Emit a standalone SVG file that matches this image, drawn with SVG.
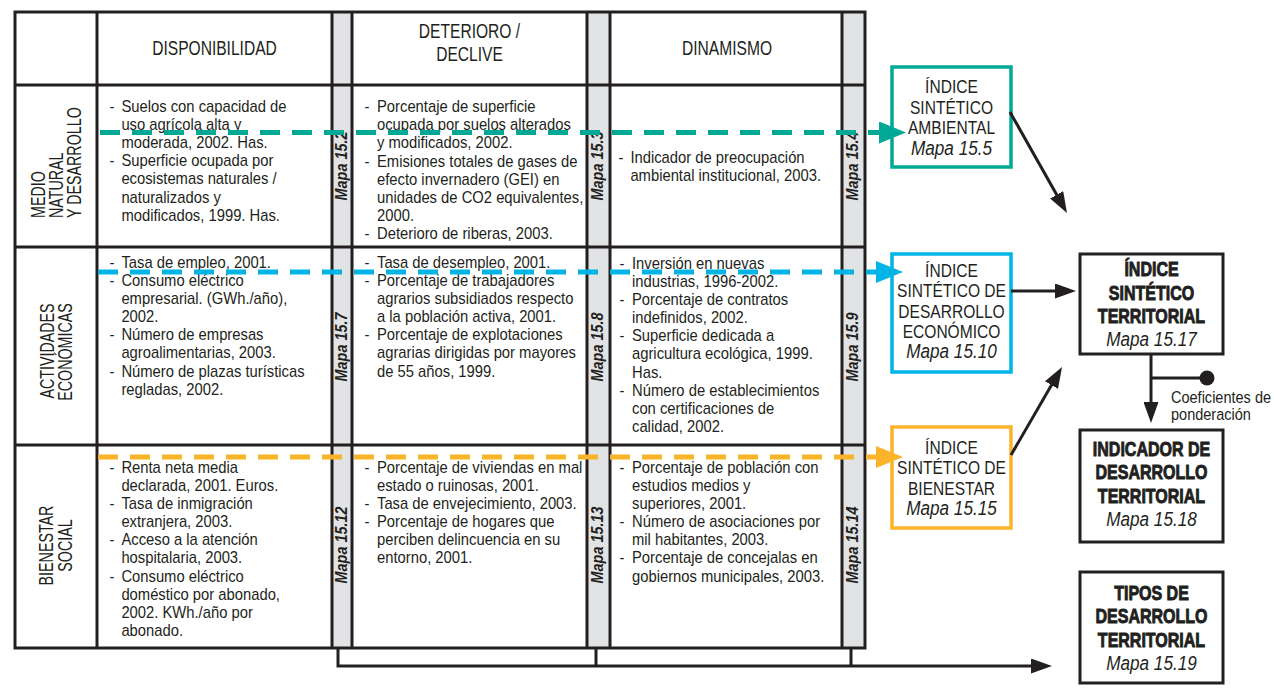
<svg xmlns="http://www.w3.org/2000/svg" width="1274" height="700" viewBox="0 0 1274 700">
<style>
text{font-family:"Liberation Sans",Arial,sans-serif;fill:#231f20}
.b{font-size:17px}
.h{font-size:19.5px;text-anchor:middle}
.r{font-size:21px}
.m{font-size:16px;font-weight:bold;font-style:italic;text-anchor:middle}
.bx{font-size:19px;text-anchor:middle}
.bxi{font-size:19.5px;font-style:italic;text-anchor:middle}
.bb{font-size:20px;font-weight:bold;text-anchor:middle;stroke:#231f20;stroke-width:0.9}
.c{font-size:16.5px}
.grid{fill:none;stroke:#231f20;stroke-width:3}
.strip{fill:#e2e3e4}
.k{fill:none;stroke:#231f20;stroke-width:3}
.dash{fill:none;stroke-width:5;stroke-dasharray:20 12}
</style>
<defs>
<marker id="ah" markerUnits="userSpaceOnUse" markerWidth="21" markerHeight="15" refX="5" refY="7.5" orient="auto"><path d="M0,0 L21,7.5 L0,15 Z" fill="#231f20"/></marker>
<marker id="at" markerUnits="userSpaceOnUse" markerWidth="27" markerHeight="22" refX="0" refY="11" orient="auto"><path d="M0,0 L27,11 L0,22 Z" fill="#00a896"/></marker>
<marker id="ab" markerUnits="userSpaceOnUse" markerWidth="27" markerHeight="22" refX="0" refY="11" orient="auto"><path d="M0,0 L27,11 L0,22 Z" fill="#00b5e6"/></marker>
<marker id="ao" markerUnits="userSpaceOnUse" markerWidth="27" markerHeight="22" refX="0" refY="11" orient="auto"><path d="M0,0 L27,11 L0,22 Z" fill="#fbb32a"/></marker>
</defs>
<rect width="1274" height="700" fill="#ffffff"/>

<g id="table-grid">
<rect class="strip" x="332" y="12" width="20" height="636"/>
<rect class="strip" x="587" y="12" width="23" height="636"/>
<rect class="strip" x="842" y="12" width="23" height="636"/>
<rect class="grid" x="15" y="12" width="850" height="636"/>
<path class="grid" d="M97,12 V648 M332,12 V648 M352,12 V648 M587,12 V648 M610,12 V648 M842,12 V648 M15,85 H865 M15,247 H865 M15,445 H865"/>
</g>

<g id="headers">
<text class="h" transform="translate(214.5,0) scale(0.8,1)"><tspan x="0" y="55">DISPONIBILIDAD</tspan></text>
<text class="h" transform="translate(469.5,0) scale(0.8,1)"><tspan x="0" y="38">DETERIORO /</tspan><tspan x="0" y="61">DECLIVE</tspan></text>
<text class="h" transform="translate(727,0) scale(0.8,1)"><tspan x="0" y="55">DINAMISMO</tspan></text>
</g>

<g id="row-labels">
<text class="r" transform="translate(45,218) rotate(-90) scale(0.68,1)">MEDIO</text>
<text class="r" transform="translate(63,218) rotate(-90) scale(0.68,1)">NATURAL</text>
<text class="r" transform="translate(81,218) rotate(-90) scale(0.68,1)">Y DESARROLLO</text>
<text class="r" text-anchor="middle" transform="translate(54,351) rotate(-90) scale(0.68,1)">ACTIVIDADES</text>
<text class="r" text-anchor="middle" transform="translate(72,352) rotate(-90) scale(0.68,1)">ECONÓMICAS</text>
<text class="r" text-anchor="middle" transform="translate(53,545.5) rotate(-90) scale(0.68,1)">BIENESTAR</text>
<text class="r" text-anchor="middle" transform="translate(72,545.5) rotate(-90) scale(0.68,1)">SOCIAL</text>
</g>

<g id="mapa-labels">
<text class="m" transform="translate(346.5,166) rotate(-90) scale(0.9,1)">Mapa 15.2</text>
<text class="m" transform="translate(603,166) rotate(-90) scale(0.9,1)">Mapa 15.3</text>
<text class="m" transform="translate(858,166) rotate(-90) scale(0.9,1)">Mapa 15.4</text>
<text class="m" transform="translate(346.5,347) rotate(-90) scale(0.9,1)">Mapa 15.7</text>
<text class="m" transform="translate(603,347) rotate(-90) scale(0.9,1)">Mapa 15.8</text>
<text class="m" transform="translate(858,347) rotate(-90) scale(0.9,1)">Mapa 15.9</text>
<text class="m" transform="translate(346.5,545) rotate(-90) scale(0.9,1)">Mapa 15.12</text>
<text class="m" transform="translate(603,545) rotate(-90) scale(0.9,1)">Mapa 15.13</text>
<text class="m" transform="translate(858,545) rotate(-90) scale(0.9,1)">Mapa 15.14</text>
</g>

<g id="cell-medio-disponibilidad">
<text class="b" transform="translate(109.4,0) scale(0.87,1)">
<tspan x="0" y="111.7">-</tspan><tspan x="13.8">Suelos con capacidad de</tspan>
<tspan x="13.8" y="129.9">uso agrícola alta y</tspan>
<tspan x="13.8" y="148.1">moderada, 2002. Has.</tspan>
<tspan x="0" y="166.3">-</tspan><tspan x="13.8">Superficie ocupada por</tspan>
<tspan x="13.8" y="184.5">ecosistemas naturales /</tspan>
<tspan x="13.8" y="202.7">naturalizados y</tspan>
<tspan x="13.8" y="220.9">modificados, 1999. Has.</tspan>
</text>
</g>
<g id="cell-medio-deterioro">
<text class="b" transform="translate(364.4,0) scale(0.87,1)">
<tspan x="0" y="112.3">-</tspan><tspan x="14.5">Porcentaje de superficie</tspan>
<tspan x="14.5" y="130.4">ocupada por suelos alterados</tspan>
<tspan x="14.5" y="148.5">y modificados, 2002.</tspan>
<tspan x="0" y="166.6">-</tspan><tspan x="14.5">Emisiones totales de gases de</tspan>
<tspan x="14.5" y="184.7">efecto invernadero (GEI) en</tspan>
<tspan x="14.5" y="202.8">unidades de CO2 equivalentes,</tspan>
<tspan x="14.5" y="220.9">2000.</tspan>
<tspan x="0" y="239">-</tspan><tspan x="14.5">Deterioro de riberas, 2003.</tspan>
</text>
</g>
<g id="cell-medio-dinamismo">
<text class="b" transform="translate(618.4,0) scale(0.87,1)">
<tspan x="0" y="163">-</tspan><tspan x="13.8">Indicador de preocupación</tspan>
<tspan x="13.8" y="181.1">ambiental institucional, 2003.</tspan>
</text>
</g>

<g id="cell-actividades-disponibilidad">
<text class="b" transform="translate(109.4,0) scale(0.87,1)">
<tspan x="0" y="268">-</tspan><tspan x="13.8">Tasa de empleo, 2001.</tspan>
<tspan x="0" y="286.1">-</tspan><tspan x="13.8">Consumo eléctrico</tspan>
<tspan x="13.8" y="304.2">empresarial. (GWh./año),</tspan>
<tspan x="13.8" y="322.3">2002.</tspan>
<tspan x="0" y="340.4">-</tspan><tspan x="13.8">Número de empresas</tspan>
<tspan x="13.8" y="358.5">agroalimentarias, 2003.</tspan>
<tspan x="0" y="376.6">-</tspan><tspan x="13.8">Número de plazas turísticas</tspan>
<tspan x="13.8" y="394.7">regladas, 2002.</tspan>
</text>
</g>
<g id="cell-actividades-deterioro">
<text class="b" transform="translate(364.4,0) scale(0.87,1)">
<tspan x="0" y="268">-</tspan><tspan x="14.5">Tasa de desempleo, 2001.</tspan>
<tspan x="0" y="286.1">-</tspan><tspan x="14.5">Porcentaje de trabajadores</tspan>
<tspan x="14.5" y="304.2">agrarios subsidiados respecto</tspan>
<tspan x="14.5" y="322.3">a la población activa, 2001.</tspan>
<tspan x="0" y="340.4">-</tspan><tspan x="14.5">Porcentaje de explotaciones</tspan>
<tspan x="14.5" y="358.5">agrarias dirigidas por mayores</tspan>
<tspan x="14.5" y="376.6">de 55 años, 1999.</tspan>
</text>
</g>
<g id="cell-actividades-dinamismo">
<text class="b" transform="translate(619.4,0) scale(0.87,1)">
<tspan x="0" y="269">-</tspan><tspan x="14.5">Inversión en nuevas</tspan>
<tspan x="14.5" y="287.1">industrias, 1996-2002.</tspan>
<tspan x="0" y="305.2">-</tspan><tspan x="14.5">Porcentaje de contratos</tspan>
<tspan x="14.5" y="323.3">indefinidos, 2002.</tspan>
<tspan x="0" y="341.4">-</tspan><tspan x="14.5">Superficie dedicada a</tspan>
<tspan x="14.5" y="359.5">agricultura ecológica, 1999.</tspan>
<tspan x="14.5" y="377.6">Has.</tspan>
<tspan x="0" y="395.7">-</tspan><tspan x="14.5">Número de establecimientos</tspan>
<tspan x="14.5" y="413.8">con certificaciones de</tspan>
<tspan x="14.5" y="431.9">calidad, 2002.</tspan>
</text>
</g>

<g id="cell-bienestar-disponibilidad">
<text class="b" transform="translate(109.4,0) scale(0.87,1)">
<tspan x="0" y="473">-</tspan><tspan x="13.8">Renta neta media</tspan>
<tspan x="13.8" y="491.1">declarada, 2001. Euros.</tspan>
<tspan x="0" y="509.2">-</tspan><tspan x="13.8">Tasa de inmigración</tspan>
<tspan x="13.8" y="527.3">extranjera, 2003.</tspan>
<tspan x="0" y="545.4">-</tspan><tspan x="13.8">Acceso a la atención</tspan>
<tspan x="13.8" y="563.5">hospitalaria, 2003.</tspan>
<tspan x="0" y="581.6">-</tspan><tspan x="13.8">Consumo eléctrico</tspan>
<tspan x="13.8" y="599.7">doméstico por abonado,</tspan>
<tspan x="13.8" y="617.8">2002. KWh./año por</tspan>
<tspan x="13.8" y="635.9">abonado.</tspan>
</text>
</g>
<g id="cell-bienestar-deterioro">
<text class="b" transform="translate(364.4,0) scale(0.87,1)">
<tspan x="0" y="473">-</tspan><tspan x="14.5">Porcentaje de viviendas en mal</tspan>
<tspan x="14.5" y="491.1">estado o ruinosas, 2001.</tspan>
<tspan x="0" y="509.2">-</tspan><tspan x="14.5">Tasa de envejecimiento, 2003.</tspan>
<tspan x="0" y="527.3">-</tspan><tspan x="14.5">Porcentaje de hogares que</tspan>
<tspan x="14.5" y="545.4">perciben delincuencia en su</tspan>
<tspan x="14.5" y="563.5">entorno, 2001.</tspan>
</text>
</g>
<g id="cell-bienestar-dinamismo">
<text class="b" transform="translate(619.4,0) scale(0.87,1)">
<tspan x="0" y="473">-</tspan><tspan x="14.5">Porcentaje de población con</tspan>
<tspan x="14.5" y="491.1">estudios medios y</tspan>
<tspan x="14.5" y="509.2">superiores, 2001.</tspan>
<tspan x="0" y="527.3">-</tspan><tspan x="14.5">Número de asociaciones por</tspan>
<tspan x="14.5" y="545.4">mil habitantes, 2003.</tspan>
<tspan x="0" y="563.5">-</tspan><tspan x="14.5">Porcentaje de concejalas en</tspan>
<tspan x="14.5" y="581.6">gobiernos municipales, 2003.</tspan>
</text>
</g>

<g id="node-ambiental">
<rect x="892" y="67" width="119" height="100" fill="#ffffff" stroke="#00a896" stroke-width="3.5"/>
<text class="bx" transform="translate(951.5,0) scale(0.82,1)"><tspan x="0" y="93.5">ÍNDICE</tspan><tspan x="0" y="113.9">SINTÉTICO</tspan><tspan x="0" y="134.3">AMBIENTAL</tspan></text>
<text class="bxi" transform="translate(951.5,0) scale(0.88,1)"><tspan x="0" y="154.7">Mapa 15.5</tspan></text>
</g>
<g id="node-economico">
<rect x="892" y="254" width="119" height="118" fill="#ffffff" stroke="#00b5e6" stroke-width="3.5"/>
<text class="bx" transform="translate(951.5,0) scale(0.82,1)"><tspan x="0" y="277">ÍNDICE</tspan><tspan x="0" y="297.3">SINTÉTICO DE</tspan><tspan x="0" y="317.6">DESARROLLO</tspan><tspan x="0" y="338">ECONÓMICO</tspan></text>
<text class="bxi" transform="translate(951.5,0) scale(0.88,1)"><tspan x="0" y="358.3">Mapa 15.10</tspan></text>
</g>
<g id="node-bienestar">
<rect x="892" y="427" width="119" height="101" fill="#ffffff" stroke="#fbb32a" stroke-width="3.5"/>
<text class="bx" transform="translate(951.5,0) scale(0.82,1)"><tspan x="0" y="454">ÍNDICE</tspan><tspan x="0" y="474.4">SINTÉTICO DE</tspan><tspan x="0" y="494.8">BIENESTAR</tspan></text>
<text class="bxi" transform="translate(951.5,0) scale(0.88,1)"><tspan x="0" y="515.2">Mapa 15.15</tspan></text>
</g>
<g id="node-territorial">
<rect x="1080" y="254" width="143" height="100" fill="#ffffff" stroke="#231f20" stroke-width="3"/>
<text class="bb" transform="translate(1151.5,0) scale(0.8,1)"><tspan x="0" y="276.5">ÍNDICE</tspan><tspan x="0" y="299.7">SINTÉTICO</tspan><tspan x="0" y="323">TERRITORIAL</tspan></text>
<text class="bxi" transform="translate(1151.5,0) scale(0.88,1)"><tspan x="0" y="346.3">Mapa 15.17</tspan></text>
</g>
<g id="node-indicador">
<rect x="1080" y="430" width="143" height="112" fill="#ffffff" stroke="#231f20" stroke-width="3"/>
<text class="bb" transform="translate(1151.5,0) scale(0.8,1)"><tspan x="0" y="456">INDICADOR DE</tspan><tspan x="0" y="479.3">DESARROLLO</tspan><tspan x="0" y="502.6">TERRITORIAL</tspan></text>
<text class="bxi" transform="translate(1151.5,0) scale(0.88,1)"><tspan x="0" y="525.9">Mapa 15.18</tspan></text>
</g>
<g id="node-tipos">
<rect x="1080" y="572" width="143" height="111" fill="#ffffff" stroke="#231f20" stroke-width="3"/>
<text class="bb" transform="translate(1151.5,0) scale(0.8,1)"><tspan x="0" y="600">TIPOS DE</tspan><tspan x="0" y="623.3">DESARROLLO</tspan><tspan x="0" y="646.6">TERRITORIAL</tspan></text>
<text class="bxi" transform="translate(1151.5,0) scale(0.88,1)"><tspan x="0" y="670">Mapa 15.19</tspan></text>
</g>
<g id="node-coeficientes">
<circle cx="1207" cy="378" r="7.5" fill="#231f20"/>
<text class="c" transform="translate(1171,0) scale(0.88,1)"><tspan x="0" y="403">Coeficientes de</tspan><tspan x="0" y="420">ponderación</tspan></text>
</g>

<g id="connectors">
<path class="dash" stroke="#00a896" d="M100,132.5 H879" marker-end="url(#at)"/>
<path class="dash" stroke="#00b5e6" d="M98,272 H876" marker-end="url(#ab)"/>
<path class="dash" stroke="#fbb32a" d="M98,457 H876" marker-end="url(#ao)"/>
<path class="k" d="M1010,112 L1059.1,199.1" marker-end="url(#ah)"/>
<path class="k" d="M1011,291 H1060" marker-end="url(#ah)"/>
<path class="k" d="M1011,455 L1054,380.8" marker-end="url(#ah)"/>
<path class="k" d="M1151,354 V407" marker-end="url(#ah)"/>
<path class="k" d="M1151,378 H1207"/>
<path class="k" d="M338,648 V666 H1036" marker-end="url(#ah)"/>
<path class="k" d="M596,648 V666 M851,648 V666"/>
</g>
</svg>
